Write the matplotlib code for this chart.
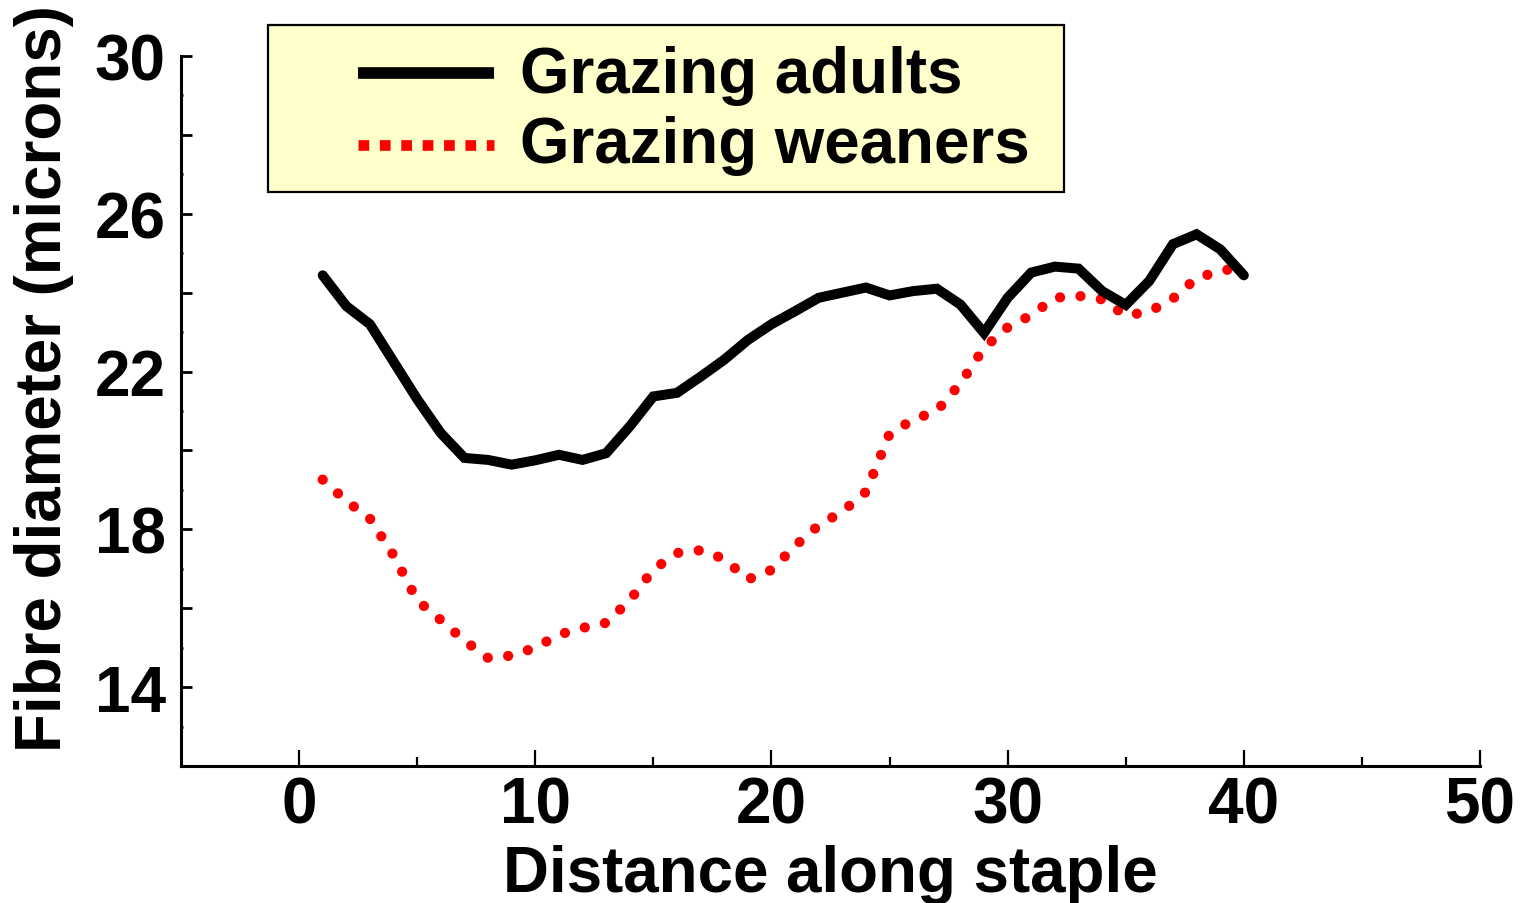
import matplotlib
matplotlib.use("Agg")
import matplotlib.pyplot as plt
from matplotlib.patches import Rectangle
from matplotlib.lines import Line2D
from matplotlib.ticker import FixedLocator, FixedFormatter

plt.rcParams['font.family'] = ['Liberation Sans', 'DejaVu Sans']
plt.rcParams['font.weight'] = 'bold'

# ---------------- data ----------------
distance = [1, 2, 3, 4, 5, 6, 7, 8, 9, 10,
            11, 12, 13, 14, 15, 16, 17, 18, 19, 20,
            21, 22, 23, 24, 25, 26, 27, 28, 29, 30,
            31, 32, 33, 34, 35, 36, 37, 38, 39, 40]

adults = [24.44, 23.66, 23.20, 22.25, 21.30, 20.44, 19.81, 19.76, 19.64, 19.75,
          19.89, 19.76, 19.93, 20.61, 21.37, 21.46, 21.87, 22.30, 22.80, 23.20,
          23.53, 23.87, 24.00, 24.13, 23.93, 24.04, 24.10, 23.70, 22.98, 23.87,
          24.51, 24.66, 24.61, 24.04, 23.69, 24.30, 25.23, 25.48, 25.10, 24.44]

weaners = [19.26, 18.72, 18.27, 17.34, 16.20, 15.70, 15.18, 14.74, 14.80, 15.00,
           15.33, 15.50, 15.63, 16.20, 16.98, 17.40, 17.47, 17.25, 16.73, 16.97,
           17.58, 18.10, 18.45, 18.95, 20.42, 20.78, 21.00, 21.70, 22.60, 23.12,
           23.43, 23.87, 23.92, 23.83, 23.42, 23.52, 23.85, 24.37, 24.55, 24.65]

series_labels = ["Grazing adults", "Grazing weaners"]
x_label = "Distance along staple"
y_label = "Fibre diameter (microns)"

x_major = [0, 10, 20, 30, 40, 50]
x_minor = [5, 15, 25, 35, 45]
y_major = [12, 14, 16, 18, 20, 22, 24, 26, 28, 30]
y_major_labels = ["", "14", "", "18", "", "22", "", "26", "", "30"]
y_minor = [13, 15, 17, 19, 21, 23, 25, 27, 29]

# ---------------- figure ----------------
W, H = 1532, 904
fig = plt.figure(figsize=(W / 100, H / 100), dpi=100)
fig.patch.set_facecolor('white')

L, R, T, B = 181, 1480, 57, 767
ax = fig.add_axes([L / W, 1 - B / H, (R - L) / W, (B - T) / H])
ax.set_xlim(-5, 50)
ax.set_ylim(12, 30)

ax.plot(distance, adults, color='black', lw=7.2,
        solid_capstyle='round', solid_joinstyle='miter', zorder=3)
ax.plot(distance, weaners, color='#ff0000', lw=7.4,
        linestyle=(0, (0.001, 2.0)), dash_capstyle='round', zorder=2)

for s in ['top', 'right']:
    ax.spines[s].set_visible(False)
for s in ['left', 'bottom']:
    ax.spines[s].set_linewidth(2.2)

ax.xaxis.set_major_locator(FixedLocator(x_major))
ax.xaxis.set_minor_locator(FixedLocator(x_minor))
ax.yaxis.set_major_locator(FixedLocator(y_major))
ax.yaxis.set_major_formatter(FixedFormatter(y_major_labels))
ax.yaxis.set_minor_locator(FixedLocator(y_minor))

ax.tick_params(axis='x', which='major', direction='in', length=11.5, width=1.6,
               labelsize=46, pad=7)
ax.tick_params(axis='x', which='minor', direction='in', length=6.5, width=1.6)
ax.tick_params(axis='y', which='major', direction='in', length=8, width=2.0,
               labelsize=46, pad=11)
ax.tick_params(axis='y', which='minor', direction='in', length=1.5, width=2.0)
for lab in ax.get_xticklabels() + ax.get_yticklabels():
    lab.set_fontweight('bold')

fig.text(830 / W, 1 - 892 / H, x_label, ha='center', va='baseline',
         fontsize=45.8, fontweight='bold')
fig.text(61 / W, 1 - 379 / H, y_label, ha='center', va='baseline',
         rotation=90, rotation_mode='anchor', fontsize=45.8, fontweight='bold')

# ---------------- legend (drawn manually) ----------------
bx0, by0, bx1, by1 = 268, 26, 1064, 193
fig.add_artist(Rectangle((bx0 / W, 1 - by1 / H), (bx1 - bx0) / W, (by1 - by0) / H,
                         transform=fig.transFigure, facecolor='#ffffcc',
                         edgecolor='black', lw=1.6, zorder=5))
hx0, hx1 = 358, 494
fig.add_artist(Line2D([hx0 / W, hx1 / W], [1 - 74 / H] * 2, transform=fig.transFigure,
                      color='black', lw=8.4, solid_capstyle='butt', zorder=6))
fig.add_artist(Line2D([hx0 / W, hx1 / W], [1 - 145.5 / H] * 2, transform=fig.transFigure,
                      color='#ff0000', lw=7.7, linestyle=(0, (1.0, 1.0)),
                      dash_capstyle='butt', zorder=6))
fig.text(520 / W, 1 - 92.5 / H, series_labels[0], ha='left', va='baseline',
         fontsize=45.8, fontweight='bold', zorder=7)
fig.text(520 / W, 1 - 163 / H, series_labels[1], ha='left', va='baseline',
         fontsize=45.8, fontweight='bold', zorder=7)

fig.savefig('out.png', dpi=100)
